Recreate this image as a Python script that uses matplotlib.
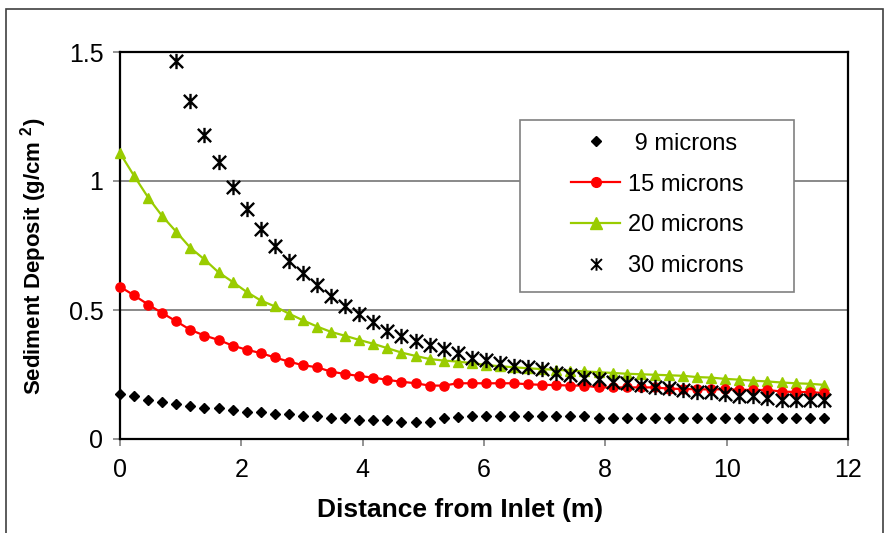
import numpy as np
import matplotlib
matplotlib.use("Agg")
import matplotlib.pyplot as plt
from matplotlib.path import Path
from matplotlib.patches import Rectangle
from matplotlib.lines import Line2D

# ---------------- data ----------------
distance = [0.000, 0.232, 0.464, 0.696, 0.928, 1.160, 1.392, 1.624, 1.856, 2.088,
            2.320, 2.552, 2.784, 3.016, 3.248, 3.480, 3.712, 3.944, 4.176, 4.408,
            4.640, 4.872, 5.104, 5.336, 5.568, 5.800, 6.032, 6.264, 6.496, 6.728,
            6.960, 7.192, 7.424, 7.656, 7.888, 8.120, 8.352, 8.584, 8.816, 9.048,
            9.280, 9.512, 9.744, 9.976, 10.208, 10.440, 10.672, 10.904, 11.136, 11.368,
            11.600]

dep_9 = [0.174, 0.167, 0.151, 0.142, 0.134, 0.128, 0.121, 0.121, 0.112, 0.103,
         0.103, 0.097, 0.097, 0.089, 0.089, 0.080, 0.080, 0.073, 0.073, 0.073,
         0.067, 0.067, 0.067, 0.082, 0.084, 0.089, 0.089, 0.089, 0.089, 0.089,
         0.089, 0.089, 0.089, 0.089, 0.081, 0.081, 0.081, 0.081, 0.081, 0.081,
         0.081, 0.081, 0.081, 0.081, 0.081, 0.081, 0.081, 0.081, 0.081, 0.081,
         0.081]

dep_15 = [0.590, 0.557, 0.521, 0.488, 0.456, 0.423, 0.401, 0.384, 0.362, 0.346,
          0.333, 0.316, 0.300, 0.286, 0.278, 0.261, 0.252, 0.244, 0.238, 0.229,
          0.222, 0.216, 0.207, 0.207, 0.216, 0.216, 0.216, 0.216, 0.216, 0.212,
          0.210, 0.209, 0.207, 0.207, 0.200, 0.200, 0.200, 0.200, 0.200, 0.195,
          0.194, 0.193, 0.192, 0.193, 0.191, 0.190, 0.190, 0.184, 0.182, 0.182,
          0.178]

dep_20 = [1.108, 1.020, 0.936, 0.864, 0.803, 0.741, 0.696, 0.646, 0.609, 0.570,
          0.537, 0.514, 0.486, 0.460, 0.436, 0.415, 0.400, 0.384, 0.369, 0.352,
          0.335, 0.322, 0.310, 0.304, 0.300, 0.294, 0.287, 0.282, 0.278, 0.274,
          0.271, 0.268, 0.265, 0.262, 0.259, 0.256, 0.253, 0.251, 0.249, 0.247,
          0.245, 0.240, 0.238, 0.233, 0.230, 0.226, 0.223, 0.219, 0.216, 0.214,
          0.210]

dep_30 = [None, None, None, None, 1.467, 1.312, 1.179, 1.072, 0.976, 0.891,
          0.813, 0.750, 0.689, 0.642, 0.596, 0.556, 0.517, 0.486, 0.453, 0.420,
          0.400, 0.378, 0.363, 0.348, 0.335, 0.313, 0.305, 0.294, 0.283, 0.278,
          0.270, 0.257, 0.248, 0.238, 0.232, 0.222, 0.216, 0.209, 0.203, 0.197,
          0.190, 0.183, 0.183, 0.174, 0.167, 0.167, 0.158, 0.151, 0.151, 0.151,
          0.151]

series_labels = [" 9 microns", "15 microns", "20 microns", "30 microns"]
x_ticks = [0, 2, 4, 6, 8, 10, 12]
y_ticks = [0, 0.5, 1, 1.5]
y_tick_labels = ["0", "0.5", "1", "1.5"]

# ---------------- style ----------------
plt.rcParams["font.family"] = ["Liberation Sans", "DejaVu Sans"]
plt.rcParams["mathtext.fontset"] = "custom"
plt.rcParams["mathtext.rm"] = "Liberation Sans:bold"
plt.rcParams["mathtext.default"] = "rm"

GREEN = "#99CC00"
RED = "#FF0000"

asterisk = Path([(-1, -1), (1, 1), (-1, 1), (1, -1), (0, -1.15), (0, 1.15)],
                [Path.MOVETO, Path.LINETO, Path.MOVETO, Path.LINETO,
                 Path.MOVETO, Path.LINETO])

W, H = 885, 533
fig = plt.figure(figsize=(W / 100, H / 100), dpi=100)
L, R, T, B = 120, 848, 52, 439
ax = fig.add_axes([L / W, (H - B) / H, (R - L) / W, (B - T) / H])

x = np.array(distance, dtype=float)
y30 = np.array([np.nan if v is None else v for v in dep_30], dtype=float)

ax.plot(x, dep_20, color=GREEN, lw=1.6, marker="^", ms=7.2, mec=GREEN, mfc=GREEN,
        clip_on=False, zorder=3)
ax.plot(x, dep_15, color=RED, lw=1.6, marker="o", ms=6.6, mec=RED, mfc=RED,
        clip_on=False, zorder=3)
ax.plot(x, dep_9, ls="none", marker="D", ms=5.4, color="black", clip_on=False, zorder=4)
ax.plot(x, y30, ls="none", marker=asterisk, ms=11, mew=1.7, mec="black", mfc="none",
        clip_on=False, zorder=5)

ax.set_xlim(0, 12)
ax.set_ylim(0, 1.5)
ax.set_xticks(x_ticks)
ax.set_xticklabels([str(t) for t in x_ticks])
ax.set_yticks(y_ticks)
ax.set_yticklabels(y_tick_labels)
ax.tick_params(axis="both", direction="out", length=5, width=1.2, color="#808080",
               labelsize=18, labelcolor="black")
ax.tick_params(axis="x", pad=9)
ax.tick_params(axis="y", pad=7)
ax.set_axisbelow(True)
ax.yaxis.grid(True, color="#808080", lw=1.3)
for s in ax.spines.values():
    s.set_color("black")
    s.set_linewidth(1.6)

ax.set_xlabel("Distance from Inlet (m)", fontsize=19, fontweight="bold")
ax.xaxis.set_label_coords((460 - L) / (R - L), (B - 510) / (B - T))
ax.xaxis.label.set_va("center")
ax.set_ylabel("Sediment Deposit (g/cm $^{2}$)", fontsize=16, fontweight="bold")
ax.yaxis.set_label_coords((34 - L) / (R - L), (B - 256) / (B - T))
ax.yaxis.label.set_va("center")

# legend box
lx0, lx1, ly0, ly1 = 520, 794, 120, 292
ax.add_patch(Rectangle(((lx0 - L) / (R - L), (B - ly1) / (B - T)),
                       (lx1 - lx0) / (R - L), (ly1 - ly0) / (B - T),
                       transform=ax.transAxes, facecolor="white", edgecolor="#808080",
                       lw=1.2, zorder=1.5))
handles = [
    Line2D([], [], ls="none", marker="D", ms=5, color="black"),
    Line2D([], [], color=RED, lw=1.6, marker="o", ms=7, mfc=RED, mec=RED),
    Line2D([], [], color=GREEN, lw=1.6, marker="^", ms=8, mfc=GREEN, mec=GREEN),
    Line2D([], [], ls="none", marker=asterisk, ms=9, mew=1.4, mec="black", mfc="none"),
]
ax.legend(handles, series_labels, loc="center",
          bbox_to_anchor=(((lx0 + lx1) / 2 - L) / (R - L), (B - 205) / (B - T)),
          frameon=False, fontsize=17, handlelength=2.1, handletextpad=0.3,
          labelspacing=0.8, borderpad=0)

# outer frame
fig.add_artist(Rectangle((5.5 / W, -0.02), (883 - 5.5) / W, 1.02 - 9 / H,
                         transform=fig.transFigure, fill=False,
                         edgecolor="#404040", lw=1.2))

fig.savefig("out.png", dpi=100)
